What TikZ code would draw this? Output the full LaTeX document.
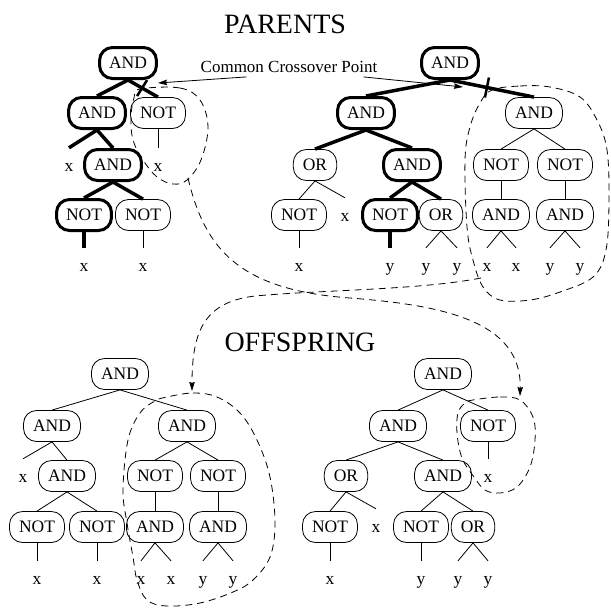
\documentclass[tikz,border=0pt]{standalone}
\usepackage{fontspec}
\setmainfont{Liberation Serif}
\usetikzlibrary{arrows.meta}

\tikzset{
  op/.style={draw, line width=0.8pt, rounded corners=13pt, minimum height=31pt,
    inner xsep=9.5pt, inner ysep=0pt, font=\fontsize{17.5}{20}\selectfont},
  opb/.style={op, line width=3pt},
  lf/.style={minimum height=38pt, inner sep=0pt, text height=8pt, text depth=0pt,
    font=\fontsize{17.5}{20}\selectfont},
  ttl/.style={inner sep=0pt, font=\fontsize{28}{32}\selectfont},
  ln/.style={line width=0.8pt},
  lnb/.style={line width=3.5pt},
  dsh/.style={line width=0.8pt, dash pattern=on 7pt off 5pt},
  tip/.style={-{Stealth[length=9pt,width=5.5pt,inset=1pt]}}
}

\begin{document}
\begin{tikzpicture}[x=1pt,y=1pt]
  \useasboundingbox (0,0) rectangle (611,-608);

  % titles
  \node[ttl] (tpar) at (285,-24) {PARENTS};
  \node[ttl] (toff) at (300,-342) {OFFSPRING};

  % first parent
  \node[opb] (pa) at (128,-63) {AND};
  \node[opb] (pa1) at (97,-113) {AND};
  \node[op] (pa2) at (158,-113) {NOT};
  \node[lf] (pa11) at (69,-167) {x};
  \node[opb] (pa12) at (113,-165) {AND};
  \node[lf] (pa21) at (158,-167) {x};
  \node[opb] (pa121) at (84,-215) {NOT};
  \node[op] (pa122) at (143,-215) {NOT};
  \node[lf] (pa1211) at (84,-267) {x};
  \node[lf] (pa1221) at (143,-267) {x};

  % second parent
  \node[opb] (pb) at (450,-63) {AND};
  \node[opb] (pb1) at (366,-113) {AND};
  \node[op] (pb2) at (534,-113) {AND};
  \node[op] (pb11) at (315,-165) {OR};
  \node[opb] (pb12) at (412,-165) {AND};
  \node[op] (pb21) at (501,-165) {NOT};
  \node[op] (pb22) at (565,-165) {NOT};
  \node[op] (pb111) at (299,-215) {NOT};
  \node[lf] (pb112) at (345,-217) {x};
  \node[opb] (pb121) at (390,-215) {NOT};
  \node[op] (pb122) at (441,-215) {OR};
  \node[op] (pb211) at (501,-215) {AND};
  \node[op] (pb221) at (565,-215) {AND};
  \node[lf] (pb1111) at (299,-267) {x};
  \node[lf] (pb1211) at (390,-267) {y};
  \node[lf] (pb1221) at (426,-267) {y};
  \node[lf] (pb1222) at (457,-267) {y};
  \node[lf] (pb2111) at (487,-267) {x};
  \node[lf] (pb2112) at (516,-267) {x};
  \node[lf] (pb2211) at (550,-267) {y};
  \node[lf] (pb2212) at (580,-267) {y};

  % first offspring
  \node[op] (oa) at (120,-374) {AND};
  \node[op] (oa1) at (52,-426) {AND};
  \node[op] (oa2) at (187,-426) {AND};
  \node[lf] (oa11) at (23,-478) {x};
  \node[op] (oa12) at (67,-476) {AND};
  \node[op] (oa21) at (155,-476) {NOT};
  \node[op] (oa22) at (218,-476) {NOT};
  \node[op] (oa121) at (37,-527) {NOT};
  \node[op] (oa122) at (97,-527) {NOT};
  \node[op] (oa211) at (155,-527) {AND};
  \node[op] (oa221) at (218,-527) {AND};
  \node[lf] (oa1211) at (37,-580) {x};
  \node[lf] (oa1221) at (97,-580) {x};
  \node[lf] (oa2111) at (141,-580) {x};
  \node[lf] (oa2112) at (171,-580) {x};
  \node[lf] (oa2211) at (203,-580) {y};
  \node[lf] (oa2212) at (233,-580) {y};

  % second offspring
  \node[op] (ob) at (443,-374) {AND};
  \node[op] (ob1) at (398,-426) {AND};
  \node[op] (ob2) at (488,-426) {NOT};
  \node[op] (ob11) at (346,-476) {OR};
  \node[op] (ob12) at (443,-476) {AND};
  \node[lf] (ob21) at (488,-478) {x};
  \node[op] (ob111) at (330,-527) {NOT};
  \node[lf] (ob112) at (376,-528) {x};
  \node[op] (ob121) at (421,-527) {NOT};
  \node[op] (ob122) at (473,-527) {OR};
  \node[lf] (ob1111) at (330,-580) {x};
  \node[lf] (ob1211) at (421,-580) {y};
  \node[lf] (ob1221) at (458,-580) {y};
  \node[lf] (ob1222) at (488,-580) {y};

  % bold branches
  \foreach \a/\b in {pa/pa1,pa/pa2,pa1/pa11,pa1/pa12,pa12/pa121,pa12/pa122,
      pa121/pa1211,pb/pb1,pb/pb2,pb1/pb11,pb1/pb12,pb12/pb121,pb12/pb122,pb121/pb1211}
    \draw[lnb] (\a.south) -- (\b.north);

  % thin branches
  \foreach \a/\b in {pa2/pa21,pa122/pa1221,
      pb11/pb111,pb11/pb112,pb111/pb1111,pb122/pb1221,pb122/pb1222,
      pb2/pb21,pb2/pb22,pb21/pb211,pb22/pb221,pb211/pb2111,pb211/pb2112,
      pb221/pb2211,pb221/pb2212,
      oa/oa1,oa/oa2,oa1/oa11,oa1/oa12,oa12/oa121,oa12/oa122,oa121/oa1211,
      oa122/oa1221,oa2/oa21,oa2/oa22,oa21/oa211,oa22/oa221,oa211/oa2111,
      oa211/oa2112,oa221/oa2211,oa221/oa2212,
      ob/ob1,ob/ob2,ob2/ob21,ob1/ob11,ob1/ob12,ob11/ob111,ob11/ob112,
      ob12/ob121,ob12/ob122,ob111/ob1111,ob121/ob1211,ob122/ob1221,ob122/ob1222}
    \draw[ln] (\a.south) -- (\b.north);

  % crossover marks
  \path (pa.south) -- (pa2.north) coordinate[pos=.47] (cuta);
  \path (pb.south) -- (pb2.north) coordinate[pos=.44] (cutb);
  \draw[line width=2.5pt] (cuta) ++(-5,-8) -- ++(10,16);
  \draw[line width=2.5pt] (cutb) ++(-2,-10) -- ++(4,20);

  % label with arrows
  \node[inner sep=0pt, font=\fontsize{17}{20}\selectfont] (cxp) at (289,-67) {Common Crossover Point};
  \coordinate (tipa) at (158,-83);
  \coordinate (tipb) at (463,-87);
  \draw[ln,tip] ([xshift=46pt,yshift=-4pt]cxp.south west) -- (tipa);
  \draw[ln,tip] ([xshift=-14pt,yshift=-4pt]cxp.south east) -- (tipb);

  % swapped subtrees
  \draw[dsh] plot[smooth cycle, tension=0.6] coordinates {(140,-89) (180,-88) (200,-100)
    (208,-127) (201,-160) (187,-180) (173,-184) (157,-177) (143,-160) (133,-140)
    (131,-117) (134,-98)};
  \draw[dsh] plot[smooth cycle, tension=0.6] coordinates {(492,-90) (520,-86) (550,-87)
    (580,-97) (597,-120) (607,-150) (609,-200) (606,-250) (593,-277) (560,-292)
    (530,-300) (500,-300) (483,-287) (473,-260) (467,-227) (465,-160) (470,-127)
    (480,-103)};
  \draw[dsh] plot[smooth cycle, tension=0.6] coordinates {(167,-397) (193,-393)
    (217,-397) (240,-413) (257,-440) (270,-477) (275,-523) (270,-557) (253,-580)
    (233,-592) (200,-603) (167,-606) (147,-600) (137,-580) (133,-557) (127,-523)
    (123,-490) (128,-440) (140,-413) (155,-401)};
  \draw[dsh] plot[smooth cycle, tension=0.6] coordinates {(473,-400) (500,-397)
    (520,-400) (533,-417) (535,-440) (530,-467) (517,-487) (500,-493) (485,-490)
    (474,-477) (462,-458) (457,-433) (458,-413) (465,-403)};

  % where they go
  \coordinate (srca) at (188,-178);
  \coordinate (srcb) at (481,-278);
  \coordinate (dsta) at (520,-396);
  \coordinate (dstb) at (192,-391);
  \draw[dsh,tip] (srca) .. controls (205,-250) and (240,-290) .. (350,-298)
    .. controls (440,-305) and (522,-320) .. (dsta);
  \draw[dsh,tip] (srcb) .. controls (420,-290) and (320,-290) .. (255,-296)
    .. controls (205,-302) and (192,-330) .. (dstb);
\end{tikzpicture}
\end{document}
